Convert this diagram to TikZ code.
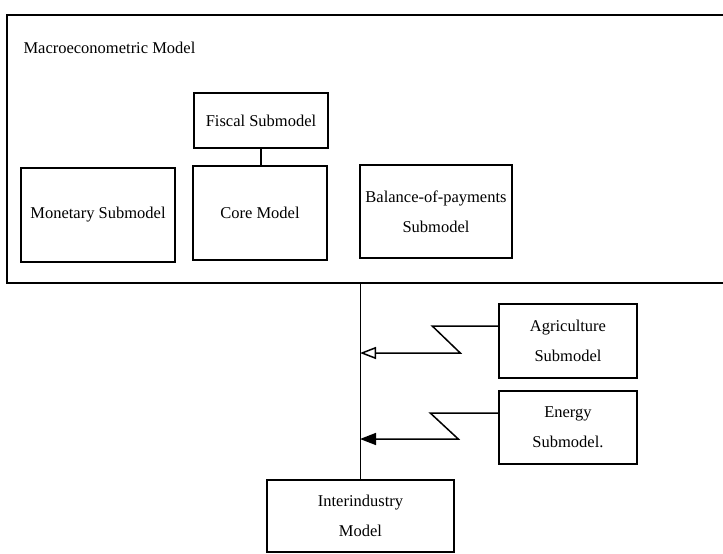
\documentclass[tikz,border=0pt]{standalone}
\usepackage{fontspec}
\setmainfont{Liberation Serif}
\usepackage{tikz}
\usetikzlibrary{arrows.meta, positioning}
\tikzset{model/.style={draw=black, line width=1.5pt, align=center, inner sep=0pt, font=\fontsize{16.5}{30}\selectfont},
         feed/.style={line width=1.5pt}}

\begin{document}
\begin{tikzpicture}[x=1pt,y=-1pt]
                      \fill[white] (0,0) rectangle (723,554);
                      \useasboundingbox (0,0) rectangle (723,554);
                      
                      \node[model, minimum width=740pt, minimum height=268pt] (macro) at (377,149) {};
                      \node[anchor=west, font=\fontsize{16.5}{30}\selectfont] (title) at (20,48) {Macroeconometric Model};
                      
                      \node[model, minimum width=134pt, minimum height=55pt] (fiscal) at (261,120.5) {Fiscal Submodel};
                      \node[model, minimum width=154pt, minimum height=94pt] (monetary) at (98,215) {Monetary Submodel};
                      \node[model, minimum width=134pt, minimum height=94pt] (core) at (260,213) {Core Model};
                      \node[model, minimum width=152pt, minimum height=93pt] (bop) at (436,211.5) {Balance-of-payments\\Submodel};
                      
                      \node[model, minimum width=138pt, minimum height=74pt] (agri) at (568,341) {Agriculture\\Submodel};
                      \node[model, minimum width=138pt, minimum height=73pt] (energy) at (568,427.5) {Energy\\Submodel.};
                      \node[model, minimum width=187pt, minimum height=72pt] (inter) at (360.5,516) {Interindustry\\Model};
                      
                      \draw[feed](fiscal.south)--(fiscal.south |- core.north);
                      \draw[feed](macro.south -| inter.north)--(inter.north);
                      
                      \coordinate (agrihit) at (360,353);
                      \coordinate (energyhit) at (360,439);
                      \draw[feed, -{Triangle[open, length=16pt, width=12pt]}]([yshift=15pt]agri.west)--++(-66,0)--++(28,27)--(agrihit);
                      \draw[feed, -{Triangle[length=16pt, width=12pt]}]([yshift=14.5pt]energy.west)--++(-68,0)--++(28,26)--(energyhit);
             \end{tikzpicture}
\end{document}
